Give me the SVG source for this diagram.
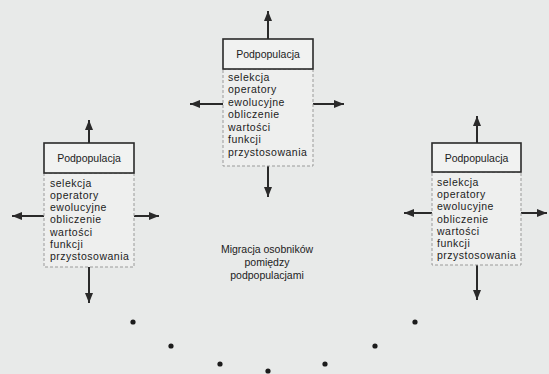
<svg xmlns="http://www.w3.org/2000/svg" width="549" height="374" viewBox="0 0 549 374">
<defs>
<marker id="ah" markerWidth="10" markerHeight="8" refX="10" refY="4" orient="auto" markerUnits="userSpaceOnUse">
<path d="M0,0 L10,4 L0,8 z" fill="#2a2a2a"/>
</marker>
</defs>
<style>
.bg{fill:#e8eae9}
.hdr{fill:#f1f2f1;stroke:#2a2a2a;stroke-width:1.6}
.body{fill:#eeefee;stroke:#9a9a9a;stroke-width:1;stroke-dasharray:3 2}
.t{font-family:"Liberation Sans",Arial,sans-serif;font-size:10.5px;fill:#1c1c1c}
.l{letter-spacing:0.5px}
.c{text-anchor:middle}
.arr{stroke:#2a2a2a;stroke-width:2;fill:none;marker-end:url(#ah)}
.dot{fill:#1c1c1c}
</style>
<rect class="bg" x="0" y="0" width="549" height="374"/>

<g id="connectors">
<line class="arr" x1="268" y1="39" x2="268" y2="11"/>
<line class="arr" x1="223" y1="104" x2="190" y2="104"/>
<line class="arr" x1="313" y1="104" x2="344" y2="104"/>
<line class="arr" x1="268" y1="166" x2="268" y2="197"/>

<line class="arr" x1="89" y1="143" x2="89" y2="120"/>
<line class="arr" x1="44" y1="216" x2="12" y2="216"/>
<line class="arr" x1="134" y1="216" x2="159" y2="216"/>
<line class="arr" x1="89" y1="267" x2="89" y2="303"/>

<line class="arr" x1="477" y1="143" x2="477" y2="116"/>
<line class="arr" x1="432" y1="213" x2="404" y2="213"/>
<line class="arr" x1="521" y1="213" x2="547" y2="213"/>
<line class="arr" x1="477" y1="265" x2="477" y2="300"/>
</g>

<g id="node-center">
<rect class="body" x="223" y="69" width="90" height="97"/>
<rect class="hdr" x="223" y="39" width="90" height="30"/>
<text class="t c" x="268" y="58">Podpopulacja</text>
<text class="t l" x="228" y="80.5">selekcja</text>
<text class="t l" x="228" y="93">operatory</text>
<text class="t l" x="228" y="105.5">ewolucyjne</text>
<text class="t l" x="228" y="118">obliczenie</text>
<text class="t l" x="228" y="130.5">wartości</text>
<text class="t l" x="228" y="143">funkcji</text>
<text class="t l" x="228" y="155.5">przystosowania</text>
</g>

<g id="node-left">
<rect class="body" x="44" y="173" width="90" height="94"/>
<rect class="hdr" x="44" y="143" width="90" height="30"/>
<text class="t c" x="89" y="162">Podpopulacja</text>
<text class="t l" x="50" y="186.5">selekcja</text>
<text class="t l" x="50" y="198.8">operatory</text>
<text class="t l" x="50" y="211.1">ewolucyjne</text>
<text class="t l" x="50" y="223.4">obliczenie</text>
<text class="t l" x="50" y="235.7">wartości</text>
<text class="t l" x="50" y="248">funkcji</text>
<text class="t l" x="50" y="260.3">przystosowania</text>
</g>

<g id="node-right">
<rect class="body" x="432" y="172" width="89" height="93"/>
<rect class="hdr" x="432" y="143" width="89" height="29"/>
<text class="t c" x="476.5" y="161.5">Podpopulacja</text>
<text class="t l" x="437" y="186">selekcja</text>
<text class="t l" x="437" y="198.2">operatory</text>
<text class="t l" x="437" y="210.4">ewolucyjne</text>
<text class="t l" x="437" y="222.6">obliczenie</text>
<text class="t l" x="437" y="234.8">wartości</text>
<text class="t l" x="437" y="247">funkcji</text>
<text class="t l" x="437" y="259.2">przystosowania</text>
</g>

<g id="label-migracja">
<text class="t c" x="267" y="252.5">Migracja osobników</text>
<text class="t c" x="267" y="265.5">pomiędzy</text>
<text class="t c" x="267" y="278.5">podpopulacjami</text>
</g>

<g id="dots">
<circle class="dot" cx="133" cy="322" r="2.6"/>
<circle class="dot" cx="171" cy="346" r="2.6"/>
<circle class="dot" cx="220" cy="364" r="2.6"/>
<circle class="dot" cx="268" cy="371" r="2.6"/>
<circle class="dot" cx="325" cy="364" r="2.6"/>
<circle class="dot" cx="375" cy="346" r="2.6"/>
<circle class="dot" cx="415" cy="322" r="2.6"/>
</g>
</svg>
